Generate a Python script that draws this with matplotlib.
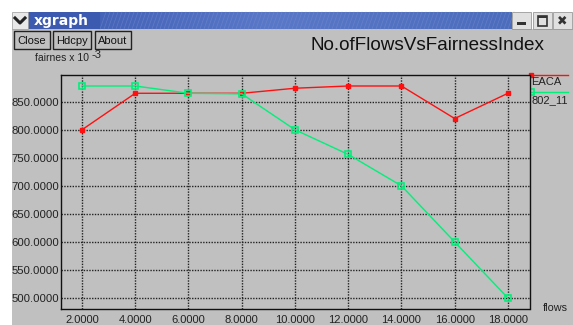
import matplotlib
matplotlib.use("Agg")
import matplotlib.pyplot as plt
from matplotlib.patches import Rectangle
from matplotlib.colors import LinearSegmentedColormap
import numpy as np

flows = [2, 4, 6, 8, 10, 12, 14, 16, 18]
eaca = [800, 865, 865, 865, 874, 878, 878, 820, 865]
ieee80211 = [878, 878, 865, 864, 800, 756, 700, 600, 500]
xticks = [2, 4, 6, 8, 10, 12, 14, 16, 18]
yticks = [500, 550, 600, 650, 700, 750, 800, 850]
series_names = ["EACA", "802_11"]
title = "No.ofFlowsVsFairnessIndex"

W, H = 573, 325
GRAY = "#c0c0c0"
RED = "#ff1010"
GREEN = "#00f07a"
FONT = "Liberation Sans"

fig = plt.figure(figsize=(W / 100, H / 100), dpi=100)
fig.patch.set_facecolor("white")

# chrome axes in pixel coordinates
bg = fig.add_axes([0, 0, 1, 1])
bg.set_xlim(0, W)
bg.set_ylim(H, 0)
bg.axis("off")

# window body
bg.add_patch(Rectangle((12, 29), 561, 296, facecolor=GRAY, edgecolor="none"))
# title bar gradient
grad = np.linspace(0, 1, 256).reshape(1, -1)
cmap = LinearSegmentedColormap.from_list("tb", ["#3c5ab0", "#5a78c8", "#4c6cbc"])
bg.imshow(grad, extent=(28, 512, 29, 12), aspect="auto", cmap=cmap, zorder=1)
for xs in range(100, 512, 4):
    bg.plot([xs, xs + 6], [29, 12], color="#7890d0", lw=0.5, alpha=0.5, zorder=2)
bg.add_patch(Rectangle((28, 12), 72, 17, facecolor="#3c5ab0", edgecolor="none", zorder=2))
bg.text(34, 21, "xgraph", color="white", fontsize=10, fontweight="bold",
        va="center", ha="left", zorder=3)
# left menu icon
bg.add_patch(Rectangle((12, 12), 16, 17, facecolor="#e8e8e8", edgecolor="#999999", lw=0.5, zorder=2))
bg.plot([15, 20, 25], [18, 23, 18], color="#222222", lw=2.2, zorder=3)
# right buttons
for bx in (512, 533, 553):
    bg.add_patch(Rectangle((bx, 12), 19, 17, facecolor="#e0e0e0", edgecolor="#888888", lw=0.5, zorder=2))
bg.add_patch(Rectangle((517, 22), 9, 3, facecolor="#333333", edgecolor="none", zorder=3))
bg.add_patch(Rectangle((538, 15.5), 9, 10, facecolor="none", edgecolor="#333333", lw=1.2, zorder=3))
bg.add_patch(Rectangle((538, 15.5), 9, 2.5, facecolor="#333333", edgecolor="none", zorder=3))
bg.text(562.5, 21, "✖", color="#333333", fontsize=9, ha="center", va="center", zorder=3)

# buttons
for (bx, bw, lab) in [(14, 36, "Close"), (53, 38, "Hdcpy"), (95, 36, "About")]:
    bg.add_patch(Rectangle((bx, 31), bw, 18, facecolor=GRAY, edgecolor="#222222", lw=1.0, zorder=2))
    bg.text(bx + bw / 2, 40.5, lab, fontsize=8, ha="center", va="center", color="#111111",
            family=FONT, zorder=3)

# title
bg.text(427, 46, title, fontsize=13.6, ha="center", va="center", color="#111111",
        family=FONT)
# y label
bg.text(35, 58, "fairnes x 10", fontsize=7.5, ha="left", va="center", color="#222222",
        family=FONT)
bg.text(91, 54.5, "-3", fontsize=8, ha="left", va="center", color="#222222",
        family=FONT)
# x label
bg.text(543, 308, "flows", fontsize=7.8, ha="left", va="center", color="#222222",
        family=FONT)

# legend
bg.plot([531, 568], [75, 75], color=RED, lw=1.0)
bg.plot([531], [75], marker="s", color=RED, ms=3.5)
bg.text(531, 82, series_names[0], fontsize=8, ha="left", va="center", color="#222222",
        family=FONT)
bg.plot([531, 568], [91.5, 91.5], color=GREEN, lw=1.0)
bg.plot([531], [91.5], marker="s", mfc="none", mec=GREEN, ms=5, mew=1.2)
bg.text(531, 100, series_names[1], fontsize=8, ha="left", va="center", color="#222222",
        family=FONT)

# plot axes
L, R, T, B = 61, 530, 75, 309
ax = fig.add_axes([L / W, (H - B) / H, (R - L) / W, (B - T) / H])
ax.set_facecolor(GRAY)
ax.set_xlim(1.21, 18.83)
ax.set_ylim(480.4, 897.6)
for s in ax.spines.values():
    s.set_linestyle((0, (1, 1)))
    s.set_color("#111111")
    s.set_linewidth(1.0)
ax.set_xticks(xticks)
ax.set_yticks(yticks)
ax.set_xticklabels([f"{v:.4f}" for v in xticks])
ax.set_yticklabels([f"{v:.4f}" for v in yticks])
ax.tick_params(axis="y", length=0, labelsize=8.2, colors="#222222", pad=1.5)
ax.tick_params(axis="x", length=0, labelsize=8, colors="#222222", pad=4)
for lab in ax.get_xticklabels() + ax.get_yticklabels():
    lab.set_family(FONT)
ax.grid(True, color="#222222", linestyle=(0, (1, 1)), linewidth=1.0)
ax.set_axisbelow(True)

ax.plot(flows, eaca, color=RED, lw=1.0, marker="s", ms=3.5, zorder=3)
ax.plot(flows, ieee80211, color=GREEN, lw=1.0, marker="s", mfc="none", mec=GREEN,
        ms=5, mew=1.2, zorder=4)

fig.savefig("out.png", dpi=100, facecolor=fig.get_facecolor())
